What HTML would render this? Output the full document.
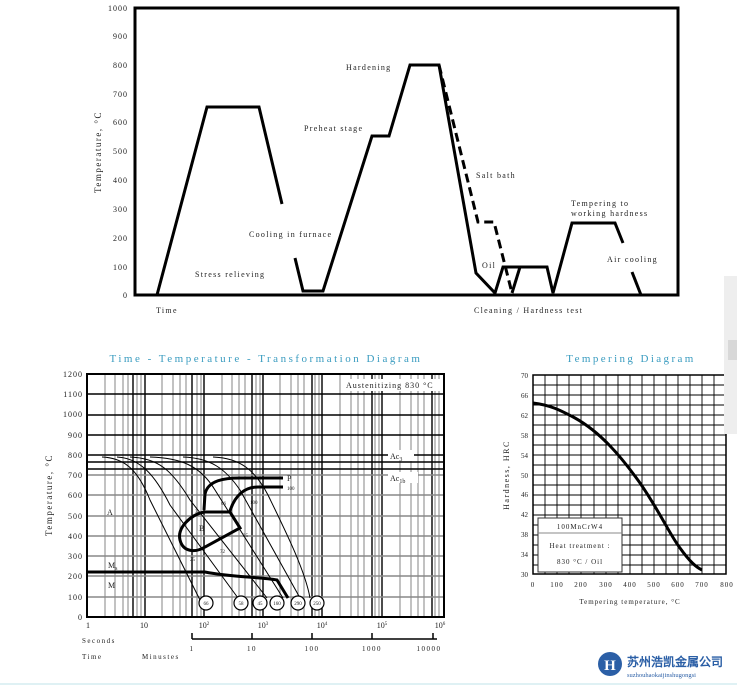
<!DOCTYPE html>
<html><head><meta charset="utf-8"><style>
html,body{margin:0;padding:0;background:#fff}
svg{display:block}
text{font-family:"Liberation Serif",serif;fill:#222}
</style></head><body>
<svg width="737" height="687" viewBox="0 0 737 687" xmlns="http://www.w3.org/2000/svg">
<!-- TOP CHART -->
<rect x="135" y="8" width="543" height="287" fill="none" stroke="#000" stroke-width="3"/>
<g font-size="8" text-anchor="end" letter-spacing="1">
<text x="128" y="298">0</text><text x="128" y="270">100</text><text x="128" y="241">200</text><text x="128" y="212">300</text><text x="128" y="183">400</text><text x="128" y="154">500</text><text x="128" y="125">600</text><text x="128" y="97">700</text><text x="128" y="68">800</text><text x="128" y="39">900</text><text x="128" y="11">1000</text>
</g>
<text transform="translate(101,152) rotate(-90)" font-size="9" text-anchor="middle" letter-spacing="1.5">Temperature, °C</text>
<g fill="none" stroke="#000" stroke-width="3" stroke-linejoin="miter">
<polyline points="157,295 207,107 259,107 282,204"/>
<polyline points="295,258 303,291 323,291 372,136 389,136 410,65 439,65 476,273 495,293 503,267 547,267 553,293 572,223 615,223 623,243"/>
<polyline points="632,272 641,295"/>
<polyline points="520,267 512,293"/>
<polyline points="439,65 478,222 494,222 512,293" stroke-dasharray="9,5"/>
</g>
<g font-size="8" letter-spacing="1.3">
<text x="195" y="277">Stress relieving</text>
<text x="249" y="237">Cooling in furnace</text>
<text x="304" y="131">Preheat stage</text>
<text x="346" y="70">Hardening</text>
<text x="476" y="178">Salt bath</text>
<text x="482" y="268">Oil</text>
<text x="571" y="206">Tempering to</text>
<text x="571" y="216">working hardness</text>
<text x="607" y="262">Air cooling</text>
<text x="156" y="313">Time</text>
<text x="474" y="313">Cleaning / Hardness test</text>
</g>

<!-- TTT -->
<text x="266" y="362" font-size="11" style="fill:#3a9cc0" text-anchor="middle" letter-spacing="2.5">Time - Temperature - Transformation Diagram</text>
<g stroke="#999" stroke-width="1.2">
<line x1="105" y1="374" x2="105" y2="617"/><line x1="115" y1="374" x2="115" y2="617"/><line x1="123" y1="374" x2="123" y2="617"/><line x1="128" y1="374" x2="128" y2="617"/><line x1="137" y1="374" x2="137" y2="617"/><line x1="141" y1="374" x2="141" y2="617"/>
<line x1="162" y1="374" x2="162" y2="617"/><line x1="173" y1="374" x2="173" y2="617"/><line x1="180" y1="374" x2="180" y2="617"/><line x1="186" y1="374" x2="186" y2="617"/><line x1="197" y1="374" x2="197" y2="617"/><line x1="201" y1="374" x2="201" y2="617"/>
<line x1="222" y1="374" x2="222" y2="617"/><line x1="232" y1="374" x2="232" y2="617"/><line x1="239" y1="374" x2="239" y2="617"/><line x1="245" y1="374" x2="245" y2="617"/><line x1="256" y1="374" x2="256" y2="617"/><line x1="260" y1="374" x2="260" y2="617"/>
<line x1="280" y1="374" x2="280" y2="617"/><line x1="291" y1="374" x2="291" y2="617"/><line x1="298" y1="374" x2="298" y2="617"/><line x1="304" y1="374" x2="304" y2="617"/><line x1="315" y1="374" x2="315" y2="617"/><line x1="319" y1="374" x2="319" y2="617"/>
<line x1="340" y1="374" x2="340" y2="617"/><line x1="351" y1="374" x2="351" y2="617"/><line x1="358" y1="374" x2="358" y2="617"/><line x1="364" y1="374" x2="364" y2="617"/><line x1="375" y1="374" x2="375" y2="617"/><line x1="379" y1="374" x2="379" y2="617"/>
<line x1="400" y1="374" x2="400" y2="617"/><line x1="411" y1="374" x2="411" y2="617"/><line x1="418" y1="374" x2="418" y2="617"/><line x1="424" y1="374" x2="424" y2="617"/><line x1="435" y1="374" x2="435" y2="617"/><line x1="439" y1="374" x2="439" y2="617"/>
</g>
<g stroke="#000" stroke-width="1.4">
<line x1="133" y1="374" x2="133" y2="617"/><line x1="145" y1="374" x2="145" y2="617"/>
<line x1="192" y1="374" x2="192" y2="617"/><line x1="204" y1="374" x2="204" y2="617"/>
<line x1="252" y1="374" x2="252" y2="617"/><line x1="263" y1="374" x2="263" y2="617"/>
<line x1="312" y1="374" x2="312" y2="617"/><line x1="322" y1="374" x2="322" y2="617"/>
<line x1="372" y1="374" x2="372" y2="617"/><line x1="382" y1="374" x2="382" y2="617"/>
<line x1="432" y1="374" x2="432" y2="617"/>
<line x1="87" y1="394" x2="444" y2="394"/><line x1="87" y1="415" x2="444" y2="415"/><line x1="87" y1="435" x2="444" y2="435"/><line x1="87" y1="455" x2="444" y2="455"/><line x1="87" y1="475" x2="444" y2="475" stroke="#888"/><line x1="87" y1="495" x2="444" y2="495" stroke="#888"/><line x1="87" y1="516" x2="444" y2="516" stroke="#888"/><line x1="87" y1="536" x2="444" y2="536" stroke="#888"/><line x1="87" y1="556" x2="444" y2="556" stroke="#888"/><line x1="87" y1="576" x2="444" y2="576" stroke="#888"/><line x1="87" y1="597" x2="444" y2="597" stroke="#888"/>
<line x1="87" y1="462" x2="444" y2="462"/><line x1="87" y1="469" x2="444" y2="469"/>
</g>
<rect x="87" y="374" width="357" height="243" fill="none" stroke="#000" stroke-width="2"/>
<rect x="344" y="379" width="98" height="12" fill="#fff"/>
<text x="346" y="388" font-size="8" letter-spacing="1">Austenitizing 830 °C</text>
<rect x="388" y="450" width="26" height="11" fill="#fff"/><text x="390" y="459" font-size="8">Ac<tspan font-size="6" dy="2">3</tspan></text>
<rect x="388" y="472" width="30" height="11" fill="#fff"/><text x="390" y="481" font-size="8">Ac<tspan font-size="6" dy="2">1b</tspan></text>
<g fill="none" stroke="#000" stroke-width="1">
<path d="M102,457 C125,458 138,470 150,500 L200,600"/>
<path d="M117,457 C140,458 155,475 170,505 L238,598"/>
<path d="M130,457 C158,458 172,470 190,500 L267,598"/>
<path d="M150,457 C180,458 200,465 215,490 L283,598"/>
<path d="M183,457 C210,458 225,468 240,490 L300,598"/>
<path d="M213,457 C240,458 255,470 268,495 C285,530 305,570 310,598"/>
</g>
<g fill="none" stroke="#000" stroke-width="3">
<path d="M204,510 L205,494 C208,480 225,478 240,478 L283,478"/>
<path d="M230,511 C235,495 245,487 258,487 L283,487"/>
<path d="M204,512 L230,512 L240,528 L205,547 C195,553 183,552 180,540 C177,528 190,515 204,512"/>
<path d="M87,572 L205,572 C230,577 260,577 277,580 L288,598"/>
</g>
<g font-size="8">
<text x="107" y="515">A</text><text x="199" y="531">B</text>
<text x="108" y="568">M<tspan font-size="6" dy="2">s</tspan></text><text x="108" y="588">M</text>
<text x="287" y="481">P</text><text x="287" y="490" font-size="5">100</text>
<text x="195" y="513" font-size="5">3</text><text x="221" y="505" font-size="5">66</text><text x="250" y="504" font-size="5">100</text><text x="243" y="537" font-size="5">35</text><text x="220" y="553" font-size="5">72</text><text x="190" y="561" font-size="5">25</text>
</g>
<g fill="#fff" stroke="#000" stroke-width="1.2">
<circle cx="206" cy="603" r="7"/><circle cx="241" cy="603" r="7"/><circle cx="260" cy="603" r="7"/><circle cx="277" cy="603" r="7"/><circle cx="298" cy="603" r="7"/><circle cx="317" cy="603" r="7"/>
</g>
<g font-size="5" text-anchor="middle">
<text x="206" y="605">66</text><text x="241" y="605">58</text><text x="260" y="605">45</text><text x="277" y="605">160</text><text x="298" y="605">290</text><text x="317" y="605">250</text>
</g>
<g font-size="8" text-anchor="end" letter-spacing="1">
<text x="83" y="620">0</text><text x="83" y="600">100</text><text x="83" y="579">200</text><text x="83" y="559">300</text><text x="83" y="539">400</text><text x="83" y="519">500</text><text x="83" y="498">600</text><text x="83" y="478">700</text><text x="83" y="458">800</text><text x="83" y="438">900</text><text x="83" y="417">1000</text><text x="83" y="397">1100</text><text x="83" y="377">1200</text>
</g>
<text transform="translate(52,495) rotate(-90)" font-size="9" text-anchor="middle" letter-spacing="1.5">Temperature, °C</text>
<g font-size="8" text-anchor="middle">
<text x="88" y="628">1</text><text x="144" y="628">10</text><text x="204" y="628">10<tspan font-size="5" dy="-3">2</tspan></text><text x="263" y="628">10<tspan font-size="5" dy="-3">3</tspan></text><text x="322" y="628">10<tspan font-size="5" dy="-3">4</tspan></text><text x="382" y="628">10<tspan font-size="5" dy="-3">5</tspan></text><text x="440" y="628">10<tspan font-size="5" dy="-3">6</tspan></text>
</g>
<g stroke="#000" stroke-width="1.5"><line x1="192" y1="639" x2="437" y2="639"/><line x1="192" y1="633" x2="192" y2="639"/><line x1="252" y1="633" x2="252" y2="639"/><line x1="312" y1="633" x2="312" y2="639"/><line x1="372" y1="633" x2="372" y2="639"/><line x1="433" y1="633" x2="433" y2="639"/></g>
<g font-size="7" letter-spacing="1.5">
<text x="82" y="643">Seconds</text><text x="82" y="659">Time</text><text x="142" y="659">Minustes</text>
<text x="192" y="651" text-anchor="middle">1</text><text x="252" y="651" text-anchor="middle">10</text><text x="312" y="651" text-anchor="middle">100</text><text x="372" y="651" text-anchor="middle">1000</text><text x="429" y="651" text-anchor="middle">10000</text>
</g>

<!-- TEMPERING -->
<text x="631" y="362" font-size="11" style="fill:#3a9cc0" text-anchor="middle" letter-spacing="2.4">Tempering Diagram</text>
<g stroke="#000" stroke-width="0.9">
<line x1="545" y1="375" x2="545" y2="574"/><line x1="557" y1="375" x2="557" y2="574"/><line x1="569" y1="375" x2="569" y2="574"/><line x1="581" y1="375" x2="581" y2="574"/><line x1="594" y1="375" x2="594" y2="574"/><line x1="606" y1="375" x2="606" y2="574"/><line x1="618" y1="375" x2="618" y2="574"/><line x1="630" y1="375" x2="630" y2="574"/><line x1="642" y1="375" x2="642" y2="574"/><line x1="654" y1="375" x2="654" y2="574"/><line x1="666" y1="375" x2="666" y2="574"/><line x1="678" y1="375" x2="678" y2="574"/><line x1="690" y1="375" x2="690" y2="574"/><line x1="702" y1="375" x2="702" y2="574"/><line x1="714" y1="375" x2="714" y2="574"/>
</g>
<g stroke="#000" stroke-width="0.9">
<line x1="533" y1="385" x2="726" y2="385"/><line x1="533" y1="395" x2="726" y2="395"/><line x1="533" y1="405" x2="726" y2="405"/><line x1="533" y1="415" x2="726" y2="415"/><line x1="533" y1="425" x2="726" y2="425"/><line x1="533" y1="435" x2="726" y2="435"/><line x1="533" y1="445" x2="726" y2="445"/><line x1="533" y1="455" x2="726" y2="455"/><line x1="533" y1="465" x2="726" y2="465"/><line x1="533" y1="475" x2="726" y2="475"/><line x1="533" y1="485" x2="726" y2="485"/><line x1="533" y1="495" x2="726" y2="495"/><line x1="533" y1="505" x2="726" y2="505"/><line x1="533" y1="515" x2="726" y2="515"/><line x1="533" y1="525" x2="726" y2="525"/><line x1="533" y1="535" x2="726" y2="535"/><line x1="533" y1="545" x2="726" y2="545"/><line x1="533" y1="555" x2="726" y2="555"/><line x1="533" y1="565" x2="726" y2="565"/>
</g>
<rect x="533" y="375" width="193" height="199" fill="none" stroke="#000" stroke-width="1.5"/>
<path d="M533,403 C550,405 560,410 575,418 C600,432 620,455 640,483 C660,512 670,535 680,548 C690,562 696,567 702,570" fill="none" stroke="#000" stroke-width="3"/>
<rect x="538" y="518" width="84" height="54" fill="#fff" stroke="#333" stroke-width="1"/>
<line x1="538" y1="533" x2="622" y2="533" stroke="#888"/>
<g font-size="7" text-anchor="middle" letter-spacing="1">
<text x="580" y="529">100MnCrW4</text><text x="580" y="548">Heat treatment :</text><text x="580" y="564">830 °C / Oil</text>
</g>
<g font-size="7" text-anchor="end">
<text x="528" y="378">70</text><text x="528" y="398">66</text><text x="528" y="418">62</text><text x="528" y="438">58</text><text x="528" y="458">54</text><text x="528" y="478">50</text><text x="528" y="497">46</text><text x="528" y="517">42</text><text x="528" y="537">38</text><text x="528" y="557">34</text><text x="528" y="577">30</text>
</g>
<g font-size="7" text-anchor="middle" letter-spacing="1">
<text x="533" y="587">0</text><text x="557" y="587">100</text><text x="581" y="587">200</text><text x="606" y="587">300</text><text x="630" y="587">400</text><text x="654" y="587">500</text><text x="678" y="587">600</text><text x="702" y="587">700</text><text x="727" y="587">800</text>
</g>
<text x="630" y="604" font-size="7" text-anchor="middle" letter-spacing="1">Tempering temperature, °C</text>
<text transform="translate(509,475) rotate(-90)" font-size="8" text-anchor="middle" letter-spacing="1.5">Hardness, HRC</text>

<rect x="724" y="276" width="13" height="158" fill="#eee"/><rect x="728" y="340" width="9" height="20" fill="#d8d8d8"/>
<circle cx="610" cy="664" r="12" fill="#2b5fa6"/>
<text x="610" y="670" font-size="15" font-family="Liberation Sans,sans-serif" style="fill:#fff" text-anchor="middle" font-weight="bold">H</text>
<text x="627" y="666" font-size="12" font-family="Liberation Sans,'Noto Sans CJK SC',sans-serif" style="fill:#2b5fa6" font-weight="bold">苏州浩凯金属公司</text>
<text x="627" y="677" font-size="6.5" font-family="Liberation Sans,sans-serif" style="fill:#2b5fa6">suzhouhaokaijinshugongsi</text>
<line x1="0" y1="684" x2="737" y2="684" stroke="#bfe3e8" stroke-width="1"/>
</svg>
</body></html>
